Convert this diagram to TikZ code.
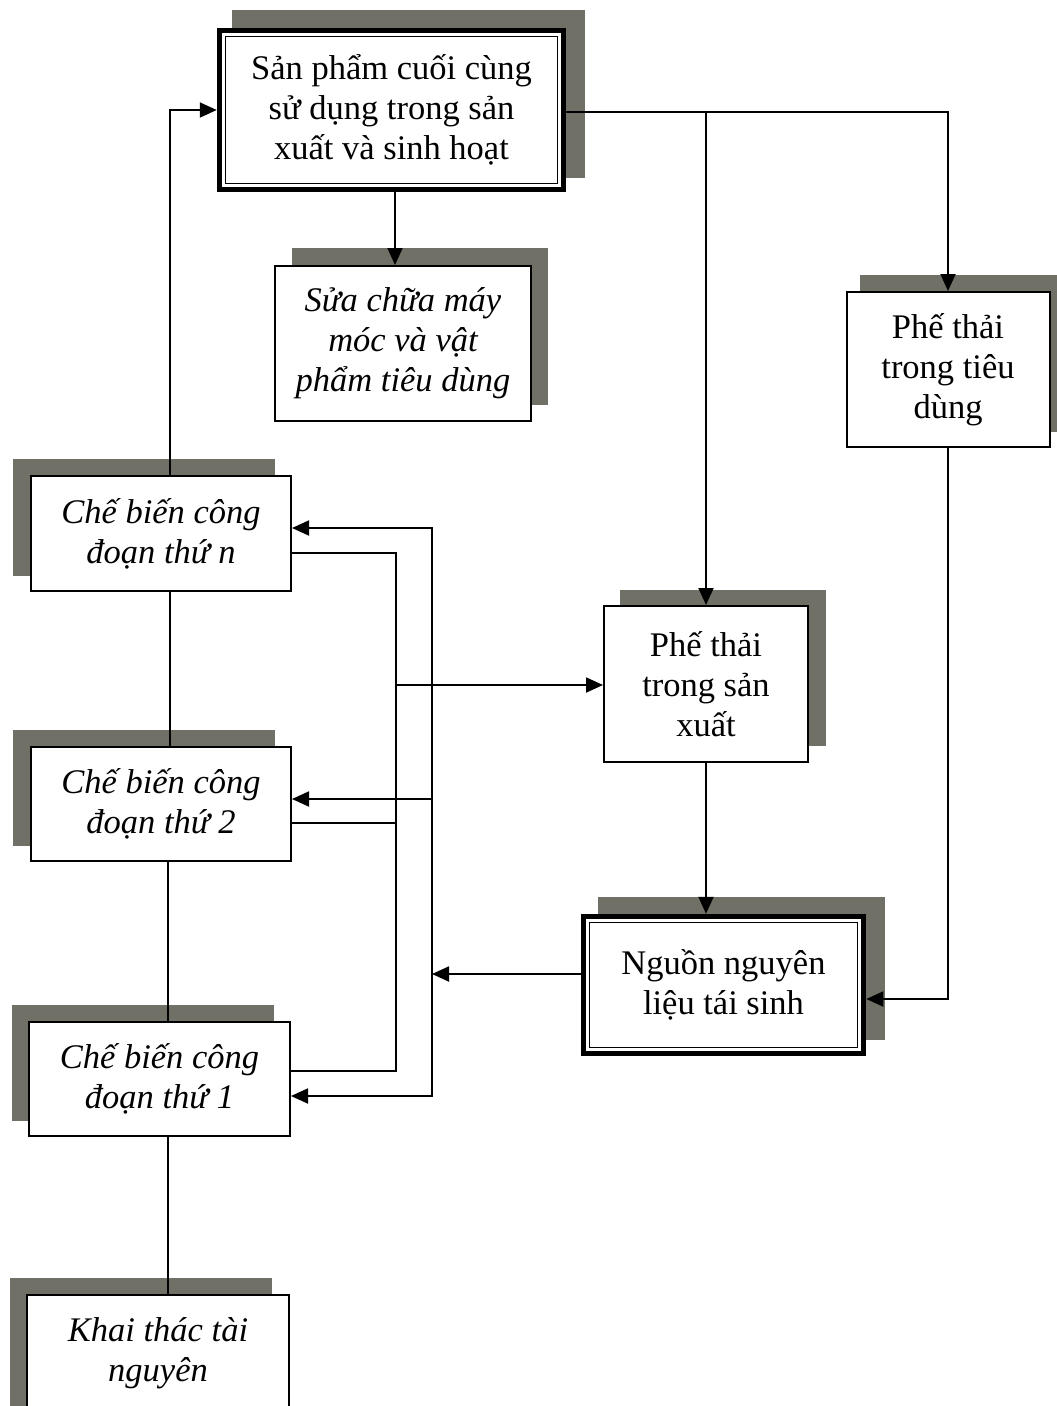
\documentclass[tikz,border=0pt]{standalone}
\usepackage{fontspec}
\setmainfont{Liberation Serif}
\usetikzlibrary{arrows.meta,calc}
\definecolor{shadowgray}{RGB}{112,112,102}
\begin{document}
\begin{tikzpicture}[x=1pt,y=1pt,
  box/.style={draw,line width=2pt,fill=white,align=center,inner sep=0pt,font=\fontsize{34.5}{40}\selectfont},
  ibox/.style={box,font=\fontsize{34.5}{40}\selectfont\itshape},
  dbox/.style={box,line width=5.5pt},
  arr/.style={line width=1.9pt,-{Triangle[length=17pt,width=15pt]}},
  ln/.style={line width=1.9pt},
  shad/.style={fill=shadowgray}]
\useasboundingbox (0,0) rectangle (1057,-1406);
\clip (0,0) rectangle (1057,-1406);
\fill[white] (0,0) rectangle (1057,-1406);
% shadows
\fill[shad] (232,-10) rectangle (585,-178);
\fill[shad] (292,-248) rectangle (548,-405);
\fill[shad] (860,-275) rectangle (1065,-432);
\fill[shad] (13,-459) rectangle (275,-576);
\fill[shad] (13,-730) rectangle (275,-846);
\fill[shad] (12,-1005) rectangle (274,-1121);
\fill[shad] (10,-1278) rectangle (272,-1413);
\fill[shad] (620,-590) rectangle (826,-746);
\fill[shad] (598,-897) rectangle (885,-1040);
% nodes
\node[dbox,minimum width=344,minimum height=159] (top) at (391.5,-110) {Sản phẩm cuối cùng\\sử dụng trong sản\\xuất và sinh hoạt};
\draw[line width=1.2pt] ($(top.north west)+(8.5,-8.5)$) rectangle ($(top.south east)+(-8.5,8.5)$);
\node[ibox,minimum width=256,minimum height=155] (sua) at (403,-343.5) {Sửa chữa máy\\móc và vật\\phẩm tiêu dùng};
\node[box,minimum width=203,minimum height=155] (ptd) at (948,-369.5) {Phế thải\\trong tiêu\\dùng};
\node[ibox,minimum width=260,minimum height=115] (cbn) at (161,-533.5) {Chế biến công\\đoạn thứ n};
\node[ibox,minimum width=260,minimum height=114] (cb2) at (161,-804) {Chế biến công\\đoạn thứ 2};
\node[ibox,minimum width=261,minimum height=114] (cb1) at (159.5,-1079) {Chế biến công\\đoạn thứ 1};
\node[ibox,minimum width=262,minimum height=116] (kt) at (158,-1353) {Khai thác tài\\nguyên};
\node[box,minimum width=204,minimum height=156] (pts) at (706,-684) {Phế thải\\trong sản\\xuất};
\node[dbox,minimum width=280,minimum height=137] (ng) at (723.5,-985) {Nguồn nguyên\\liệu tái sinh};
\draw[line width=1.2pt] ($(ng.north west)+(8.5,-8.5)$) rectangle ($(ng.south east)+(-8.5,8.5)$);
% vertical links between left boxes
\draw[ln] (cbn.south -| 170,0) -- (cb2.north -| 170,0);
\draw[ln] (cb2.south -| 168,0) -- (cb1.north -| 168,0);
\draw[ln] (cb1.south -| 168,0) -- (kt.north -| 168,0);
% connectors
\coordinate (ja) at (170,-110);
\draw[arr] (cbn.north -| ja) -- (ja) -- (top.west);
\coordinate (jb) at (395,0);
\draw[arr] (top.south -| jb) -- (sua.north -| jb);
\coordinate (jc) at (706,-112);
\draw[arr] (top.east |- jc) -| (ptd.north);
\draw[arr] (jc) -- (pts.north);
\coordinate (jd) at (948,-999);
\draw[arr] (ptd.south) |- (ng.east |- jd);
\draw[arr] (pts.south) -- (pts.south |- ng.north);
\coordinate (je) at (432,-974);
\draw[arr] (ng.west |- je) -- (je);
\coordinate (r1) at (432,-528);
\coordinate (r2) at (432,-799);
\coordinate (r3) at (432,-1096);
\draw[arr] (r2) -- (r1) -- (cbn.east |- r1);
\draw[arr] (r2) -- (r3) -- (cb1.east |- r3);
\draw[arr] (r2) -- (cb2.east |- r2);
\coordinate (l1) at (396,-553);
\coordinate (l2) at (396,-823);
\coordinate (l3) at (396,-1071);
\coordinate (lp) at (396,-685);
\draw[ln] (cbn.east |- l1) -- (l1) -- (l3) -- (cb1.east |- l3);
\draw[ln] (cb2.east |- l2) -- (l2);
\draw[arr] (lp) -- (pts.west |- lp);
\end{tikzpicture}
\end{document}
